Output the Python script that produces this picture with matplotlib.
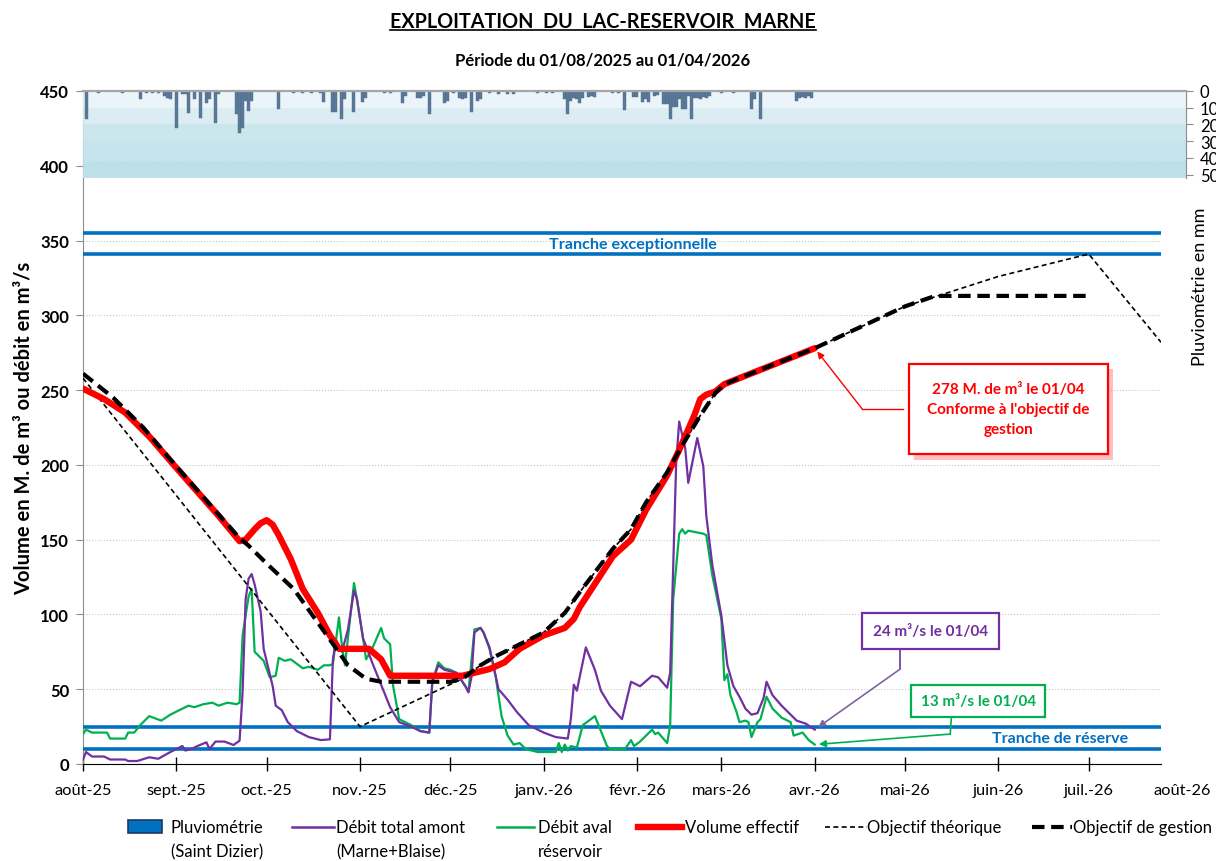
import matplotlib
matplotlib.use('Agg')
import matplotlib.pyplot as plt
from matplotlib.lines import Line2D
from matplotlib.patches import Rectangle
from matplotlib import patheffects
import pandas as pd

plt.rcParams['font.family'] = ['Lato', 'DejaVu Sans']
plt.rcParams['font.size'] = 12

START = pd.Timestamp('2025-08-01')

# ---- data (x = days since 01/08/2025) ----
rain_days = [1, 5, 13, 19, 21, 23, 25, 27, 28, 29, 31, 33, 34, 35, 37, 39, 41, 42, 44, 45,
             51, 52, 53, 54, 55, 56, 65, 70, 73, 76, 79, 80, 83, 84, 86, 87, 90, 93, 94, 100,
             102, 106, 107, 111, 112, 113, 115, 120, 121, 123, 125, 126, 127, 129, 131, 132, 135, 138, 141, 143,
             151, 154, 156, 160, 161, 162, 163, 164, 165, 166, 168, 169, 170, 176, 178, 180, 183, 184, 186, 187,
             188, 190, 191, 193, 194, 195, 196, 197, 198, 199, 200, 201, 202, 203, 204, 205, 206, 207, 208, 212,
             216, 222, 223, 225, 237, 238, 239, 240, 241, 242]
rain_mm = [17, 1, 1, 4.5, 1, 1, 1, 3, 4, 5, 22, 2, 2, 13, 5, 16, 7, 5, 19, 2,
           14, 25, 22, 6, 12, 6, 11, 1, 1, 1, 1, 6.5, 12.5, 12.5, 16.5, 5, 12.5, 6.5, 4, 1,
           1, 7, 3, 4, 4, 3, 14, 7, 6, 1, 4, 5, 4, 12.5, 6, 5, 1, 2, 2, 2,
           1, 1, 1, 4.5, 14, 6, 4, 5, 7, 4, 3.5, 3, 3.5, 1, 1, 11.5, 3.5, 3.5, 6.5, 5,
           6.5, 3, 2.5, 7.5, 7.5, 16.5, 9.5, 9.5, 5, 10.5, 10.5, 3, 16.5, 4, 4, 5, 3.5, 4, 3, 1,
           1, 10.5, 5, 16.5, 6, 4, 3.5, 4, 3, 4]

amont_days = [0, 1, 3, 7, 9, 14, 15, 18, 22, 25, 29, 31, 33, 34, 36, 38, 41, 42, 44, 47,
              50, 52, 53, 54, 55, 56, 57, 59, 60, 63, 64, 66, 68, 71, 73, 75, 79, 82, 83, 84,
              86, 88, 90, 91, 93, 94, 96, 99, 102, 105, 109, 112, 115, 116, 118, 120, 124, 127, 128, 129,
              130, 132, 133, 135, 138, 141, 144, 148, 153, 157, 161, 162, 163, 164, 167, 170, 172, 175, 179, 182,
              185, 189, 191, 194, 195, 197, 198, 200, 201, 203, 204, 206, 207, 209, 212, 214, 216, 218, 220, 222,
              224, 226, 227, 229, 232, 235, 237, 240, 243]
amont_vals = [3, 8, 5, 5, 3, 3, 2, 2, 4.5, 3.5, 8, 10, 12, 9, 10, 12, 14.5, 10, 15, 15,
              12.7, 15.6, 48, 110, 124, 127, 120, 102, 77, 52, 39, 36, 28, 22, 20, 18, 16, 16.5, 70, 83,
              75, 90, 116, 110, 84, 79, 68, 53, 38, 28, 25, 22, 21, 55, 66, 63, 61, 52, 48, 58,
              88, 91, 88, 78, 50, 43, 35, 26, 21, 18, 17, 30, 53, 49, 78, 63, 49, 39, 30, 55,
              52, 59, 58, 51, 61, 202, 229, 211, 188, 208, 218, 199, 166, 133, 99, 66, 52, 45, 37, 33,
              34, 44, 55, 46, 39, 33, 29, 27, 23]

aval_days = [0, 1, 3, 8, 9, 14, 15, 17, 19, 22, 26, 29, 31, 35, 37, 40, 43, 45, 48, 51,
             52, 53, 55, 56, 57, 60, 62, 64, 65, 67, 69, 71, 73, 75, 78, 80, 82, 83, 85, 86,
             87, 90, 91, 93, 94, 96, 99, 100, 102, 103, 105, 109, 112, 115, 116, 118, 120, 122, 124, 127,
             128, 130, 132, 133, 135, 137, 139, 141, 143, 145, 147, 151, 155, 157, 158, 159, 160, 161, 162, 164,
             166, 170, 173, 174, 175, 180, 182, 183, 185, 189, 190, 191, 194, 195, 196, 198, 199, 200, 201, 206,
             207, 209, 212, 213, 214, 215, 217, 218, 220, 221, 222, 224, 225, 227, 229, 232, 235, 236, 239, 241, 243]
aval_vals = [20, 23, 21, 21, 17, 17, 21, 21, 26, 32, 29, 33, 35, 39, 38, 40, 41, 39, 41, 40,
             41, 86, 112, 117, 75, 69, 58, 59, 71, 69, 70, 67, 64, 65, 63, 66, 66, 67, 98, 79,
             66, 121, 110, 84, 70, 77, 91, 84, 80, 52, 30, 26, 22, 21, 55, 68, 64, 63, 61, 52,
             48, 90, 91, 88, 77, 59, 32, 19, 13, 14, 10, 8, 8, 8, 14, 8, 13, 9, 12, 11,
             26, 32, 17, 12, 10, 10, 16, 12, 15, 23, 20, 21, 14, 26, 110, 154, 157, 154, 156, 154,
             153, 126, 97, 56, 60, 46, 35, 28, 29, 28, 18, 28, 30, 45, 37, 31, 28, 19, 21, 16, 13]

volume_days = [0, 7, 14, 22, 31, 45, 52, 54, 57, 59, 61, 63, 65, 69, 73, 78, 82, 85, 95, 99,
               102, 126, 130, 135, 140, 145, 153, 160, 163, 165, 176, 182, 187, 194, 198, 203, 205, 207, 210, 213, 243]
volume_vals = [251, 244, 235, 219, 198, 166, 149, 150, 157, 161, 163, 160, 153, 137, 117, 101, 86, 77, 77, 70,
               59, 59, 61, 63.5, 68, 77, 86, 91, 97, 105, 139, 150, 170, 193, 210, 233, 244, 247, 249, 254, 278]

gestion_days = [0, 10, 20, 31, 45, 52, 55, 61, 70, 81, 88, 94, 99, 122, 126, 132, 137, 144, 153, 160,
                165, 176, 182, 187, 194, 199, 205, 210, 213, 243, 273, 283, 333]
gestion_vals = [261, 245, 225, 199, 167, 151, 146, 134, 117, 86, 66, 57, 55, 55, 57, 66, 72, 79, 88, 101,
                115, 144, 157, 175, 195, 213, 233, 248, 254, 278, 306, 313, 313]

theorique_days = [0, 92, 126, 132, 137, 144, 153, 160, 165, 176, 182, 187, 194, 199, 205, 210, 213, 243,
                  273, 304, 334, 358]
theorique_vals = [258, 25, 57, 66, 72, 79, 88, 101, 115, 144, 157, 175, 195, 213, 233, 248, 254, 278,
                  306, 326, 341, 282]

tranche_exc = [341, 355]
tranche_res = [10, 25]

month_labels = ['août-25', 'sept.-25', 'oct.-25', 'nov.-25', 'déc.-25', 'janv.-26', 'févr.-26',
                'mars-26', 'avr.-26', 'mai-26', 'juin-26', 'juil.-26', 'août-26']

BLUE = '#0070C0'
PURPLE = '#7030A0'
GREEN = '#00B050'
RED = '#FF0000'


def d(days):
    return START + pd.to_timedelta(pd.Series(days, dtype=float), unit='D')


def d1(day):
    return START + pd.Timedelta(days=day)


W, H = 1216, 862
fig = plt.figure(figsize=(W / 100, H / 100), dpi=100)
ax = fig.add_axes([83 / W, (H - 765) / H, (1161 - 83) / W, (765 - 92) / H])
axp = fig.add_axes([83 / W, (H - 179) / H, (1186 - 83) / W, (179 - 92) / H])

# ---- main axes ----
for y in tranche_exc + tranche_res:
    ax.axhline(y, color=BLUE, lw=2.6, zorder=3)

ax.plot(d(aval_days), aval_vals, color=GREEN, lw=1.6, zorder=4)
ax.plot(d(amont_days), amont_vals, color=PURPLE, lw=1.6, zorder=4)
ax.plot(d(theorique_days), theorique_vals, color='black', lw=1.2, ls=(0, (3, 2)), zorder=5)
ax.plot(d(volume_days), volume_vals, color=RED, lw=4.6, solid_capstyle='round', zorder=6)
ax.plot(d(gestion_days), gestion_vals, color='black', lw=3, ls=(0, (3, 1.6)), zorder=7)

ax.set_xlim(START, d1(358))
ax.set_ylim(0, 450)
ax.set_yticks(range(0, 451, 50))
ax.yaxis.grid(True, color='#C8C8C8', ls=':', lw=0.8)
ax.set_axisbelow(True)

months = pd.date_range('2025-08-01', '2026-07-01', freq='MS')
ax.set_xticks(months)
ax.set_xticklabels(month_labels[:len(months)])

for s in ['top', 'right']:
    ax.spines[s].set_visible(False)
ax.spines['left'].set_color('#8C8C8C')
ax.spines['bottom'].set_color('black')
ax.tick_params(axis='x', direction='inout', length=10, width=1, pad=9, labelsize=11.8)
ax.tick_params(axis='y', direction='out', length=5, color='#8C8C8C', pad=5, labelsize=12)
for lab in ax.get_yticklabels():
    lab.set_fontweight('bold')
ax.set_ylabel('Volume en M. de m³ ou débit en m³/s', fontsize=14.5, fontweight='bold', labelpad=5)

ax.text(0.51, 348, 'Tranche exceptionnelle', transform=ax.get_yaxis_transform(),
        ha='center', va='center', color=BLUE, fontweight='bold', fontsize=11.6)
ax.text(0.906, 17.5, 'Tranche de réserve', transform=ax.get_yaxis_transform(),
        ha='center', va='center', color=BLUE, fontweight='bold', fontsize=11.5)

# ---- annotations ----
t = ax.text(d1(307.3), 237.4, "278 M. de m³ le 01/04\nConforme à l'objectif de\ngestion",
            ha='center', va='center', color=RED, fontweight='bold', fontsize=11, linespacing=1.55,
            zorder=10, bbox=dict(boxstyle='square,pad=1.2', fc='white', ec=RED, lw=1.6))
t.get_bbox_patch().set_path_effects([
    patheffects.SimplePatchShadow(offset=(4, -4), shadow_rgbFace=RED, alpha=0.25),
    patheffects.Normal()])
ax.plot([d1(272.4), d1(258.8)], [237.3, 237.3], color=RED, lw=1, zorder=9)
ax.annotate('', xy=(d1(volume_days[-1]), volume_vals[-1]), xytext=(d1(258.8), 237.3),
            arrowprops=dict(arrowstyle='-|>', color=RED, lw=1, shrinkA=0, shrinkB=3,
                            mutation_scale=10), zorder=9)

ax.text(d1(281.4), 89, '24 m³/s le 01/04', ha='center', va='center', color=PURPLE,
        fontweight='bold', fontsize=11, zorder=10,
        bbox=dict(boxstyle='square,pad=0.7', fc='white', ec=PURPLE, lw=1.6))
ax.plot([d1(271.4), d1(271.4)], [77, 63.5], color=PURPLE, lw=1.2, zorder=9)
ax.annotate('', xy=(d1(amont_days[-1]), amont_vals[-1]), xytext=(d1(271.4), 63.5),
            arrowprops=dict(arrowstyle='-|>', color='#8064A2', lw=1.2, shrinkA=0, shrinkB=3,
                            mutation_scale=10), zorder=9)

ax.text(d1(297.3), 42, '13 m³/s le 01/04', ha='center', va='center', color=GREEN,
        fontweight='bold', fontsize=11, zorder=10,
        bbox=dict(boxstyle='square,pad=0.6', fc='white', ec=GREEN, lw=1.6))
ax.plot([d1(288.4), d1(288.0)], [31.4, 20], color=GREEN, lw=1.2, zorder=9)
ax.annotate('', xy=(d1(aval_days[-1]), aval_vals[-1]), xytext=(d1(288.0), 20),
            arrowprops=dict(arrowstyle='-|>', color=GREEN, lw=1.2, shrinkA=0, shrinkB=3,
                            mutation_scale=10), zorder=9)

# ---- rainfall panel ----
axp.patch.set_alpha(0)
bands = [(0, 10, '#EAF4F9'), (10, 20, '#D8ECF2'), (20, 30, '#C7E5EC'), (30, 42, '#C0E2EA'), (42, 52, '#B9DEE6')]
for lo, hi, c in bands:
    axp.axhspan(lo, hi, color=c, alpha=0.92, lw=0, zorder=0)
axp.bar(d(rain_days), rain_mm, width=1.0, color='#5A7897', edgecolor='#4E6C8C', lw=0.3, zorder=2)
axp.set_xlim(START, d1(366.4))
axp.set_ylim(52, 0)
axp.set_yticks(range(0, 51, 10))
axp.set_xticks([])
axp.yaxis.tick_right()
axp.tick_params(axis='y', direction='out', length=5, color='#8C8C8C', pad=5, labelsize=12)
for s in ['bottom', 'left']:
    axp.spines[s].set_visible(False)
axp.spines['top'].set_color('#A6A6A6')
axp.spines['top'].set_linewidth(1.6)
axp.spines['right'].set_color('#8C8C8C')

fig.text(1200 / W, 1 - 287 / H, 'Pluviométrie en mm', rotation=90, ha='center', va='center', fontsize=13)

# ---- titles ----
title = fig.text(603 / W, 1 - 22 / H, 'EXPLOITATION  DU  LAC-RESERVOIR  MARNE', ha='center', va='center',
                 fontsize=14.2, fontweight='bold')
fig.text(603 / W, 1 - 60 / H, 'Période du 01/08/2025 au 01/04/2026', ha='center', va='center',
         fontsize=12, fontweight='bold')

# ---- legend (drawn by hand to keep Excel layout) ----
def fx(px):
    return px / W


def fy(py):
    return 1 - py / H


ly1, ly2 = 828, 852
fig.add_artist(Rectangle((fx(128), fy(834)), (162 - 128) / W, 13 / H, transform=fig.transFigure,
                         fc=BLUE, ec='#1F3864', lw=1.2))
legend_lines = [
    (292, 334, dict(color=PURPLE, lw=1.8)),
    (497, 534, dict(color=GREEN, lw=1.8)),
    (638, 682, dict(color=RED, lw=4.6)),
    (825, 867, dict(color='black', lw=1.2, ls=(0, (3, 2)))),
    (1032, 1072, dict(color='black', lw=3, ls=(0, (3, 1.6)))),
]
for x0, x1, kw in legend_lines:
    fig.add_artist(Line2D([fx(x0), fx(x1)], [fy(ly1), fy(ly1)], transform=fig.transFigure, **kw))
legend_text = [
    (171, 'Pluviométrie', '(Saint Dizier)'),
    (336, 'Débit total amont', '(Marne+Blaise)'),
    (538, 'Débit aval', 'réservoir'),
    (685, 'Volume effectif', None),
    (867, 'Objectif théorique', None),
    (1073, 'Objectif de gestion', None),
]
for x, l1, l2 in legend_text:
    fig.text(fx(x), fy(ly1), l1, ha='left', va='center', fontsize=12)
    if l2:
        fig.text(fx(x), fy(ly2), l2, ha='left', va='center', fontsize=12)

# underline the title, and put the last month label level with the tick labels
fig.canvas.draw()
bb = title.get_window_extent()
fig.add_artist(Line2D([bb.x0 / W, bb.x1 / W], [(bb.y0 + 1) / H, (bb.y0 + 1) / H],
                      transform=fig.transFigure, color='black', lw=1.2))
tick_lab = ax.get_xticklabels()[0]
ty = tick_lab.get_window_extent().y1
ax.annotate(month_labels[-1], xy=(pd.Timestamp('2026-08-01'), 0), xycoords=('data', 'axes fraction'),
            xytext=(0, ty - ax.get_window_extent().y0), textcoords='offset pixels',
            ha='center', va='top', fontsize=11.8, annotation_clip=False)

fig.savefig('out.png', dpi=100)
